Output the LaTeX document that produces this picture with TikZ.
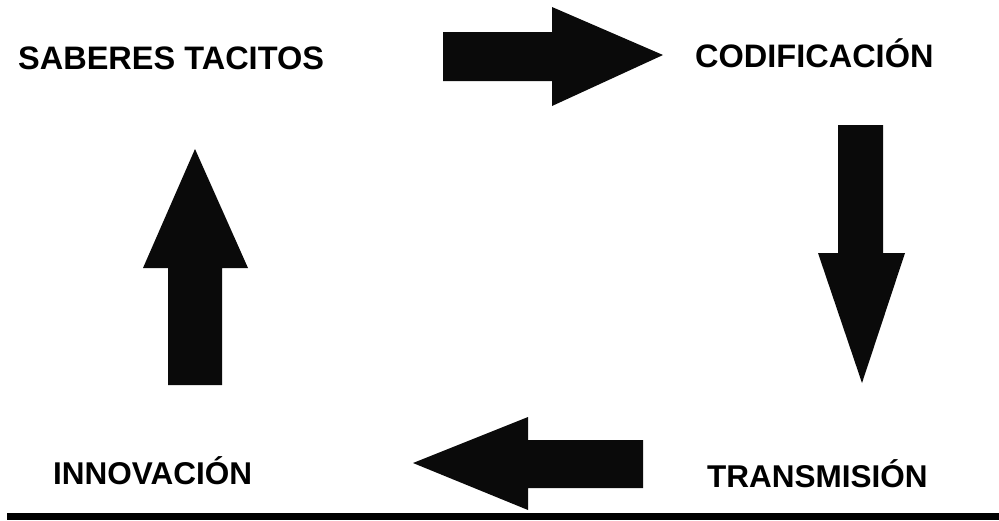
\documentclass[tikz,border=0pt]{standalone}
\usepackage{fontspec}
\setmainfont{Liberation Sans}
\begin{document}
\begin{tikzpicture}[x=1pt,y=-1pt,
  lbl/.style={anchor=base west,inner sep=0pt,font=\fontsize{31.5}{31.5}\selectfont\bfseries},
  lbltop/.style={lbl,font=\fontsize{32.5}{32.5}\selectfont\bfseries},
  blk/.style={fill=black!96,draw=none}]
\useasboundingbox (0,0) rectangle (999,520);
\fill[white] (0,0) rectangle (999,520);
\node[lbltop] (sab) at (18,69) {SABERES TACITOS};
\node[lbltop] (cod) at (695,67) {CODIFICACIÓN};
\node[lbl] (inn) at (53,484) {INNOVACIÓN};
\node[lbl] (tra) at (707,487) {TRANSMISIÓN};
% right arrow
\fill[blk] (443,32) -- (552,32) -- (552,7) -- (663,55) -- (552,106) -- (552,81) -- (443,81) -- cycle;
% down arrow
\fill[blk] (838,125) -- (883,125) -- (883,253) -- (905,253) -- (862,383) -- (818,253) -- (838,253) -- cycle;
% up arrow
\fill[blk] (168,385) -- (168,268) -- (143,268) -- (195,149) -- (248,268) -- (222,268) -- (222,385) -- cycle;
% left arrow
\fill[blk] (643,440) -- (528,440) -- (528,417) -- (413,463) -- (528,510) -- (528,488) -- (643,488) -- cycle;
% bottom bar
\fill[black] (7,513) rectangle (999,520);
\end{tikzpicture}
\end{document}
